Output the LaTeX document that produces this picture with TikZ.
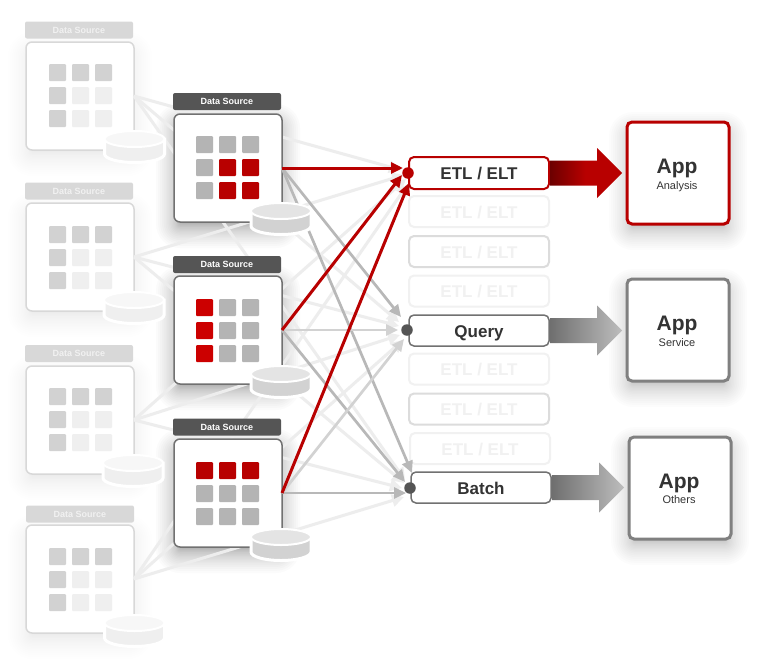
\documentclass[tikz,border=0pt]{standalone}
\usepackage{fontspec}
\setmainfont{Liberation Sans}
\usetikzlibrary{arrows.meta}
\definecolor{redmain}{HTML}{B80000}
\definecolor{redbright}{HTML}{CC0000}
\definecolor{reddark}{HTML}{6A0000}
\definecolor{graydark}{HTML}{555555}
\definecolor{grayline}{HTML}{717171}
\definecolor{graysq}{HTML}{B4B4B4}
\definecolor{graymid}{HTML}{B8B8B8}
\definecolor{graymidl}{HTML}{D2D2D2}
\definecolor{lightline}{HTML}{EDEDED}
\definecolor{lightborder}{HTML}{D8D8D8}
\definecolor{lightsq}{HTML}{D2D2D2}
\definecolor{palesq}{HTML}{EFEFEF}
\definecolor{ghost}{HTML}{F1F1F1}
\definecolor{ink}{HTML}{333333}
\definecolor{appgray}{HTML}{808080}
\definecolor{arrowa}{HTML}{6E6E6E}
\definecolor{arrowb}{HTML}{BDBDBD}
\tikzset{
  x=1pt,y=-1pt,
  srcbox/.style={draw=lightborder,line width=1.5pt,fill=white,rounded corners=6pt,minimum width=108pt,minimum height=108pt,inner sep=0pt,outer sep=0pt},
  midbox/.style={draw=grayline,line width=1.5pt,fill=white,rounded corners=6pt,minimum width=108pt,minimum height=108pt,inner sep=0pt,outer sep=0pt},
  srchead/.style={fill=lightborder,rounded corners=2pt,minimum width=108pt,minimum height=17pt,inner sep=0pt,outer sep=0pt,text=ghost,font=\bfseries\fontsize{9}{10}\selectfont},
  midhead/.style={fill=graydark,rounded corners=2pt,minimum width=108pt,minimum height=17pt,inner sep=0pt,outer sep=0pt,text=white,font=\bfseries\fontsize{9}{10}\selectfont},
  procbox/.style={fill=white,line width=1.5pt,rounded corners=5pt,minimum width=140pt,minimum height=31pt,inner sep=0pt,outer sep=0pt,text=ink,text height=13.5pt,text depth=0pt,font=\bfseries\fontsize{17}{19}\selectfont},
  ghostbox/.style={procbox,draw=ghost,line width=2pt,text=ghost},
  ghostboxm/.style={procbox,draw=lightborder!90,line width=2pt,text=ghost},
  appbox/.style={fill=white,line width=3pt,rounded corners=5pt,minimum width=102pt,minimum height=102pt,inner sep=0pt,outer sep=0pt},
  apptitle/.style={anchor=base,inner sep=0pt,text=ink,font=\bfseries\fontsize{21}{23}\selectfont},
  appsub/.style={anchor=base,inner sep=0pt,text=ink,font=\fontsize{11}{13}\selectfont},
  dot/.style={circle,minimum size=11.5pt,inner sep=0pt,outer sep=0pt},
  lightlink/.style={draw=lightline,line width=3pt,-{Triangle[length=12pt,width=12pt]}},
  graylink/.style={draw=graymid,line width=2.7pt,-{Triangle[length=12pt,width=11pt]}},
  palelink/.style={draw=graymidl,line width=2.7pt,-{Triangle[length=12pt,width=11pt]}},
  redlink/.style={draw=redmain,line width=3pt,-{Triangle[length=12pt,width=11pt]}},
}
% soft shadow: x1 y1 x2 y2 opacity-per-layer
\newcommand{\softshadow}[5]{%
  \foreach \k in {24,23,...,0}{%
    \pgfmathsetmacro{\s}{26*(\k/24)*(\k/24)-8}%
    \pgfmathsetlengthmacro{\rc}{max(\s+6,2)}%
    \fill[black,opacity=#5,rounded corners=\rc]
      ({#1-\s},{#2-\s+8}) rectangle ({#3+\s},{#4+\s+8});
  }%
}
% grid: left top colours
\newcommand{\sqgrid}[3]{%
  \foreach \c [count=\i from 0] in {#3}{%
    \pgfmathsetmacro{\gx}{#1+23*mod(\i,3)}%
    \pgfmathsetmacro{\gy}{#2+23*int(\i/3)}%
    \fill[\c,rounded corners=1pt] (\gx,\gy) rectangle ++(17,17);
  }%
}
% cylinder: cx cy-top body top
\newcommand{\drum}[4]{%
  \draw[white,line width=3pt,fill=#3] ({#1-30},#2) -- ({#1-30},{#2+15}) arc[start angle=180,end angle=360,x radius=30pt,y radius=8.5pt] -- ({#1+30},#2) -- cycle;
  \draw[white,line width=2pt,fill=#4] (#1,#2) ellipse[x radius=30pt,y radius=8pt];
}
\begin{document}
\begin{tikzpicture}
\useasboundingbox (0,0) rectangle (771,664);
\fill[white] (0,0) rectangle (771,664);

% named targets of the connectors
\coordinate (etlSa) at (401,170);
\coordinate (etlSb) at (404,175);
\coordinate (etlSc) at (406,179);
\coordinate (etlSd) at (408,184);
\coordinate (qrySa) at (399,322);
\coordinate (qrySb) at (399,326);
\coordinate (qrySc) at (400,335);
\coordinate (qrySd) at (403,340);
\coordinate (batSa) at (405,480);
\coordinate (batSb) at (404,483);
\coordinate (batSc) at (402,488);
\coordinate (batSd) at (404,497);
\coordinate (etlH) at (403,168);
\coordinate (etlM) at (402,175);
\coordinate (etlL) at (409,183);
\coordinate (qryH) at (401,317);
\coordinate (qryM) at (398,330);
\coordinate (qryL) at (404,339);
\coordinate (batH) at (412,473);
\coordinate (batM) at (405,482);
\coordinate (batL) at (406,493);

% all box shadows lie under the connectors
\softshadow{26}{42}{134}{150}{0.003}
\softshadow{26}{203}{134}{311}{0.003}
\softshadow{26}{366}{134}{474}{0.003}
\softshadow{26}{525}{134}{633}{0.003}
\softshadow{174}{114}{282}{222}{0.014}
\softshadow{174}{276}{282}{384}{0.014}
\softshadow{174}{439}{282}{547}{0.014}

% source boxes
\node[srcbox] (s1) at (80,96) {};
\node[srcbox] (s2) at (80,257) {};
\node[srcbox] (s3) at (80,420) {};
\node[srcbox] (s4) at (80,579) {};
\node[srchead] (s1h) at (79,30) {Data Source};
\node[srchead] (s2h) at (79,191) {Data Source};
\node[srchead] (s3h) at (79,353.5) {Data Source};
\node[srchead] (s4h) at (80,514) {Data Source};

% faint connectors
\foreach \s/\a/\b/\c in {s1/etlSa/qrySa/batSa,s2/etlSb/qrySb/batSb,s3/etlSc/qrySc/batSc,s4/etlSd/qrySd/batSd}{
  \draw[lightlink] (\s.east) -- (\a);
  \draw[lightlink] (\s.east) -- (\b);
  \draw[lightlink] (\s.east) -- (\c);
}

\def\lg{lightsq}\def\pl{palesq}
\sqgrid{49}{64}{\lg,\lg,\lg,\lg,\pl,\pl,\lg,\pl,\pl}
\sqgrid{49}{226}{\lg,\lg,\lg,\lg,\pl,\pl,\lg,\pl,\pl}
\sqgrid{49}{388}{\lg,\lg,\lg,\lg,\pl,\pl,\lg,\pl,\pl}
\sqgrid{49}{548}{\lg,\lg,\lg,\lg,\pl,\pl,\lg,\pl,\pl}

% mid boxes
\node[midbox] (m1) at (228,168) {};
\node[midbox] (m2) at (228,330) {};
\node[midbox] (m3) at (228,493) {};
\node[midhead] (m1h) at (227,101.5) {Data Source};
\node[midhead] (m2h) at (227,264.5) {Data Source};
\node[midhead] (m3h) at (227,427) {Data Source};

\def\gs{graysq}\def\rd{redmain}\def\rb{redbright}
\sqgrid{196}{136}{\gs,\gs,\gs,\gs,\rd,\rd,\gs,\rd,\rd}
\sqgrid{196}{299}{\rb,\gs,\gs,\rb,\gs,\gs,\rb,\gs,\gs}
\sqgrid{196}{462}{\rd,\rd,\rd,\gs,\gs,\gs,\gs,\gs,\gs}

% process boxes
\node[ghostbox] (g1) at (479,211.5) {ETL / ELT};
\node[ghostboxm] (g2) at (479,251.5) {ETL / ELT};
\node[ghostbox] (g3) at (479,291) {ETL / ELT};
\node[ghostbox] (g4) at (479,369) {ETL / ELT};
\node[ghostboxm] (g5) at (479,409) {ETL / ELT};
\node[ghostbox] (g6) at (480,448.5) {ETL / ELT};

% gray and red connectors
\draw[graylink] (m1.east) -- (qryH);
\draw[graylink] (m1.east) -- (batH);
\draw[palelink] (m2.east) -- (qryM);
\draw[graylink] (m2.east) -- (batM);
\draw[palelink] (m3.east) -- (qryL);
\draw[graylink] (m3.east) -- (batL);
\draw[redlink] (m1.east) -- (etlH);
\draw[redlink] (m2.east) -- (etlM);
\draw[redlink] (m3.east) -- (etlL);

% drums
\drum{134.5}{139}{palesq}{ghost!60}
\drum{134}{300}{palesq}{ghost!60}
\drum{133}{463}{palesq}{ghost!60}
\drum{134.5}{623}{palesq}{ghost!60}
\drum{281}{211}{lightsq}{lightborder!70}
\drum{281}{374}{lightsq}{lightborder!70}
\drum{281}{537}{lightsq}{lightborder!70}

% main process boxes
\node[procbox,draw=redmain,line width=2pt,minimum height=32pt] (etl) at (479,173) {ETL / ELT};
\node[procbox,draw=grayline] (qry) at (479,330.5) {Query};
\node[procbox,draw=grayline] (bat) at (481,487.5) {Batch};
\node[dot,fill=redmain] (etld) at (408,173) {};
\node[dot,fill=graydark] (qryd) at (407,330) {};
\node[dot,fill=graydark] (batd) at (410,488) {};

% apps
\softshadow{627}{122}{729}{224}{0.01}
\softshadow{627}{279}{729}{381}{0.01}
\softshadow{629}{437}{731}{539}{0.01}
\node[appbox,draw=redmain] (appA) at (678,173) {};
\node[appbox,draw=appgray] (appB) at (678,330) {};
\node[appbox,draw=appgray] (appC) at (680,488) {};
\node[apptitle] (appAt) at (677,173) {App};
\node[appsub] (appAs) at (677,189) {Analysis};
\node[apptitle] (appBt) at (677,330) {App};
\node[appsub] (appBs) at (677,346) {Service};
\node[apptitle] (appCt) at (679,488) {App};
\node[appsub] (appCs) at (679,503) {Others};

% block arrows
\shade[left color=reddark,right color=redmain,middle color=redmain] (etl.east) ++(1,-12.5) -- ++(47,0) -- ++(0,-12.5) -- ++(25,25) -- ++(-25,25) -- ++(0,-12.5) -- ++(-47,0) -- cycle;
\shade[left color=arrowa,right color=arrowb] (qry.east) ++(1,-12.5) -- ++(47,0) -- ++(0,-12.5) -- ++(25,25) -- ++(-25,25) -- ++(0,-12.5) -- ++(-47,0) -- cycle;
\shade[left color=arrowa,right color=arrowb] (bat.east) ++(1,-12.5) -- ++(47,0) -- ++(0,-12.5) -- ++(25,25) -- ++(-25,25) -- ++(0,-12.5) -- ++(-47,0) -- cycle;
\end{tikzpicture}
\end{document}
